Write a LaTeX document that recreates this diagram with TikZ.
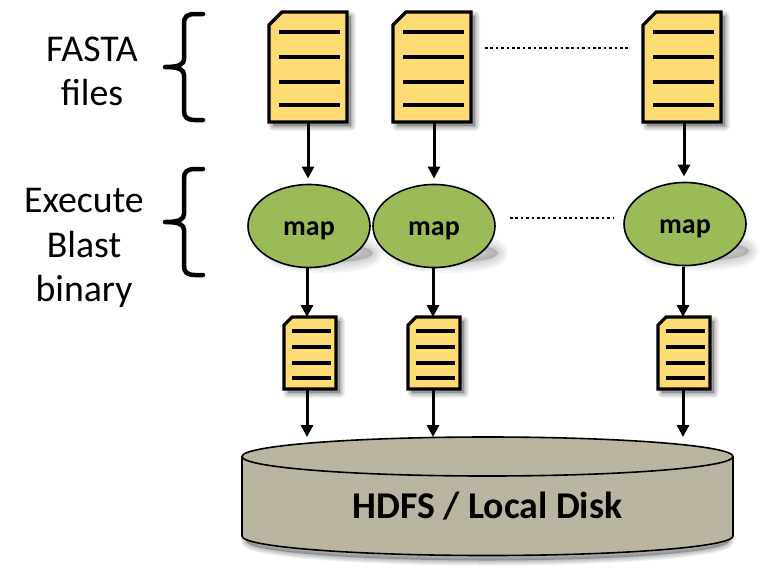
\documentclass[tikz,border=0pt]{standalone}
\usepackage{fontspec}
\setmainfont{Carlito}
\usetikzlibrary{arrows.meta,shapes.geometric}

\definecolor{docyellow}{HTML}{FFDC73}
\definecolor{mapgreen}{HTML}{9BBB59}
\definecolor{diskgrey}{HTML}{B9B5A0}

\newcommand{\sheetpath}[5]{(#1,#2) ++(0,#5) -- ++(#5,-#5) -- ++(#3-#5,0) -- ++(0,#4) -- ++(-#3,0) -- cycle}

\tikzset{
	anchorbox/.style={rectangle,inner sep=0pt,outer sep=0pt},
	sheet/.style={draw=black,fill=docyellow,line width=3.2pt,line join=miter},
	sheetline/.style={draw=black,line width=4pt},
	softlayer/.style={draw=black,fill=black,draw opacity=0.055,fill opacity=0.055,line join=round},
	faintlayer/.style={draw=black,fill=black,draw opacity=0.035,fill opacity=0.035,line join=round},
	mapnode/.style={ellipse,draw=black,fill=mapgreen,line width=1.6pt,inner sep=0pt,outer sep=0pt,
		minimum width=122pt,minimum height=83pt,text height=20pt,text depth=2pt,
		font=\bfseries\fontsize{28}{30}\selectfont},
	flow/.style={draw=black,line width=3pt,-{Triangle[length=12pt,width=12pt]}},
	brace/.style={draw=black,line width=4.5pt,line cap=round},
	sidetext/.style={font=\fontsize{37.8}{42}\selectfont,inner sep=0pt},
	dotline/.style={draw=black,line width=2.6pt,dash pattern=on 2.6pt off 2.8pt}
}

\begin{document}
\begin{tikzpicture}[x=1pt,y=-1pt]
\useasboundingbox (0,0) rectangle (778,571);

\foreach \n/\y in {1/67,2/222}
	{
	\draw [brace] (203,\y-53) -- ++(-8,0) .. controls (187,\y-53) and (184,\y-50) .. (184,\y-44)
		-- (184,\y-8) .. controls (184,\y-3) and (180,\y) .. (165,\y)
		(165,\y) .. controls (180,\y) and (184,\y+3) .. (184,\y+8)
		-- (184,\y+44) .. controls (184,\y+50) and (187,\y+53) .. (195,\y+53) -- (203,\y+53);
	}

\node [sidetext] (fastaone) at (92,49) {FASTA};
\node [sidetext] (fastatwo) at (92,93) {files};
\node [sidetext] (blastone) at (84,201) {Execute};
\node [sidetext] (blasttwo) at (84,245) {Blast};
\node [sidetext] (blastthree) at (84,291) {binary};

\foreach \n/\x/\y in {1/309/226,2/434/226,3/685/224}
	{
	\foreach \w in {20,16,12,8,4}
		\draw [faintlayer,line width=\w pt] (\x+14,\y+27) ellipse (50pt and 10pt);
	}
\foreach \n/\x/\y in {1/309/226,2/434/226,3/685/224}
	{
	\node [mapnode] (map\n) at (\x,\y) {map};
	}

\foreach \n/\x in {1/269,2/393,3/643}
	{
	\node [anchorbox,minimum width=78pt,minimum height=110pt] (file\n) at (\x+39,67) {};
	\foreach \w in {10,8,6,4,2}
		\draw [softlayer,line width=\w pt] \sheetpath{\x+4}{16}{78}{110}{13};
	\draw [sheet] \sheetpath{\x}{12}{78}{110}{13};
	\foreach \l in {32,57,82,105}
		\draw [sheetline] (\x+10,\l) -- (\x+71,\l);
	}

\foreach \n/\x in {1/284,2/408,3/658}
	{
	\node [anchorbox,minimum width=52pt,minimum height=72pt] (small\n) at (\x+26,353) {};
	\foreach \w in {10,8,6,4,2}
		\draw [softlayer,line width=\w pt] \sheetpath{\x+4}{321}{52}{72}{8};
	\draw [sheet] \sheetpath{\x}{317}{52}{72}{8};
	\foreach \l in {331,347,363,378}
		\draw [sheetline] (\x+8,\l) -- (\x+47,\l);
	}

\node [anchorbox,minimum width=491pt,minimum height=118pt] (disk) at (487.5,496) {};
\foreach \w in {10,8,6,4,2}
	\draw [softlayer,line width=\w pt] (246,480) -- (246,541) arc (180:360:241.5pt and 19.5pt) -- (729,480) -- cycle;
\draw [draw=black,fill=diskgrey,line width=1.6pt] (242,456.5) -- (242,536) arc (180:360:245.5pt and 19.5pt) -- (733,456.5) arc (0:180:245.5pt and 19.5pt) -- cycle;
\draw [draw=black,line width=1.6pt] (242,456.5) arc (180:360:245.5pt and 19.5pt);
\node [font=\bfseries\fontsize{37.8}{42}\selectfont,inner sep=0pt] (disklabel) at (487.5,506) {HDFS / Local Disk};

\foreach \n/\x in {1/308,2/434,3/684}
	{
	\draw [flow,shorten >=6pt] (\x,122) -- (map\n.north -| \x,0);
	\draw [flow] (\x-1,267) -- (small\n.north -| \x-1,0);
	\draw [flow] (\x-1,389) -- (disk.north -| \x-1,0);
	}

\coordinate (gapa) at (485,48);
\coordinate (gapb) at (628,48);
\coordinate (gapc) at (510,218);
\coordinate (gapd) at (613,218);
\draw [dotline] (gapa) -- (gapb);
\draw [dotline] (gapc) -- (gapd);
\end{tikzpicture}
\end{document}
